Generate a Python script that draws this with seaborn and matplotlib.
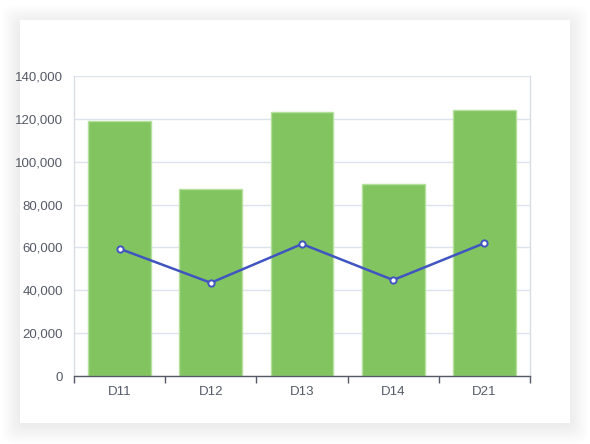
import matplotlib
matplotlib.use('Agg')
import matplotlib.pyplot as plt
import matplotlib.patches as mpatches
import matplotlib.ticker as mticker
import numpy as np
import pandas as pd
import seaborn as sns

# values
categories = ['D11', 'D12', 'D13', 'D14', 'D21']
bar_values = [118800, 87200, 123000, 89400, 123900]
line_values = [59400, 43500, 61600, 44800, 62000]
y_ticks = [0, 20000, 40000, 60000, 80000, 100000, 120000, 140000]

bar_color = '#82c560'
bar_edge = '#b5e09e'
line_color = '#4155c0'
grid_color = '#dde3ec'
text_color = '#555a66'

sns.set_theme(style='white')
plt.rcParams['font.family'] = ['Liberation Sans', 'DejaVu Sans']

fig = plt.figure(figsize=(5.9, 4.44), dpi=100)
fig.patch.set_facecolor('#ffffff')

# card with soft shadow
W, H = 590, 444
card = (20, 20, 550, 403)  # x, y(top), w, h in px
for i in range(18, 0, -1):
    r = mpatches.FancyBboxPatch(((card[0] - i) / W, 1 - (card[1] + card[3] + i + 3) / H),
                                (card[2] + 2 * i) / W, (card[3] + 2 * i) / H,
                                boxstyle='round,pad=0,rounding_size=0.02',
                                transform=fig.transFigure, facecolor='black',
                                edgecolor='none', alpha=0.0045, zorder=0)
    fig.patches.append(r)
fig.patches.append(mpatches.Rectangle((card[0] / W, 1 - (card[1] + card[3]) / H),
                                      card[2] / W, card[3] / H,
                                      transform=fig.transFigure, facecolor='white',
                                      edgecolor='none', zorder=1))

# plot area: x 74..530, y 76..376
ax = fig.add_axes([74 / W, 1 - 376 / H, (530 - 74) / W, (376 - 76) / H])
ax.set_zorder(2)
ax.set_facecolor('white')

df = pd.DataFrame({'category': categories, 'bar': bar_values, 'line': line_values})

sns.barplot(data=df, x='category', y='bar', color=bar_color, width=0.69,
            edgecolor=bar_edge, linewidth=1, saturation=1, ax=ax, zorder=2)
sns.lineplot(data=df, x='category', y='line', color=line_color, linewidth=1.8,
             marker='o', markersize=4.5, markerfacecolor='white',
             markeredgecolor=line_color, markeredgewidth=1.4, ax=ax, zorder=3)

ax.set_xlim(-0.5, 4.5)
ax.set_ylim(0, 140000)
ax.set_yticks(y_ticks)
ax.yaxis.set_major_formatter(mticker.FuncFormatter(lambda v, p: f'{int(v):,}'))
ax.grid(axis='y', color=grid_color, linewidth=1, zorder=0)
ax.set_axisbelow(True)

ax.set_xlabel('')
ax.set_ylabel('')

for s in ['left', 'right', 'top']:
    ax.spines[s].set_color('#d9dde3')
    ax.spines[s].set_linewidth(1)
ax.spines['top'].set_visible(False)
ax.spines['bottom'].set_color('#555a66')
ax.spines['bottom'].set_linewidth(1)

ax.tick_params(axis='y', length=0, pad=8, labelsize=9.5, labelcolor=text_color)
ax.set_xticks(np.arange(len(categories)))
ax.set_xticklabels(categories)
ax.tick_params(axis='x', length=0, pad=7, labelsize=9.5, labelcolor=text_color)
ax.set_xticks(np.arange(-0.5, len(categories)), minor=True)
ax.tick_params(axis='x', which='minor', bottom=True, length=5, width=1,
               color='#555a66', direction='out')

fig.savefig('out.png', dpi=100)
